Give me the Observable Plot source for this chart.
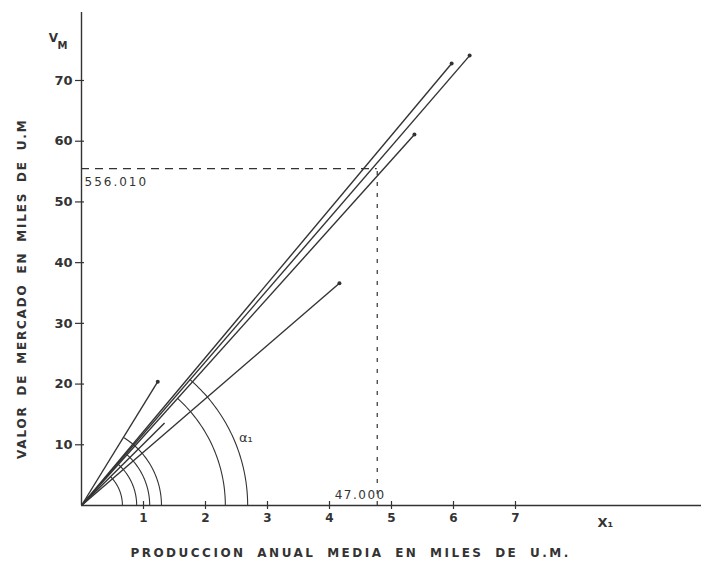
<!DOCTYPE html>
<html>
<head>
<meta charset="utf-8">
<script src="https://cdn.jsdelivr.net/npm/d3@7"></script>
<script src="https://cdn.jsdelivr.net/npm/@observablehq/plot@0.6"></script>
<style>
  html, body { margin: 0; padding: 0; background: #fff; }
  #chart svg { display: block; }
</style>
</head>
<body>
<div id="chart"></div>
<script>
// ---- data ----
const xTicks = [1, 2, 3, 4, 5, 6, 7];
const yTicks = [10, 20, 30, 40, 50, 60, 70];
// rays from the origin: end point (x in thousands of u.m., y in tens of thousands)
const rayEndX = [1.23, 5.97, 6.26, 5.37, 1.34, 4.16];
const rayEndY = [20.4, 72.8, 74.1, 61.1, 13.6, 36.6];
const rayDot  = [true, true, true, true, false, true];
// angle arcs: radius (x units) and the ray where each arc stops
const arcRadius = [0.66, 0.89, 1.10, 1.29, 2.32, 2.68];
const arcRay    = [4, 3, 3, 0, 3, 2];
// reference point (dashed guides)
const refX = 4.77, refY = 55.5;
const refXLabel = "47.000", refYLabel = "556.010";
const xTitle = "PRODUCCION ANUAL MEDIA EN MILES DE U.M.";
const yTitle = "VALOR DE MERCADO EN MILES DE U.M";

// ---- layout ----
const W = 705, H = 567;
const mL = 81, mR = 4, mT = 12, mB = 62;
const xMax = 10, yMax = 81.2;
const kx = (W - mL - mR) / xMax, ky = (H - mT - mB) / yMax;
const ink = "#333";

const rays = rayEndX.map((x, i) => ({x, y: rayEndY[i], dot: rayDot[i]}));
const arcPts = [];
arcRadius.forEach((r, i) => {
  const ray = rays[arcRay[i]];
  const end = Math.atan((ray.y / ray.x) * ky / kx);
  const n = 48;
  for (let k = 0; k <= n; k++) {
    const t = end * k / n;
    arcPts.push({id: i, x: r * Math.cos(t), y: r * Math.sin(t) * kx / ky});
  }
});

const font = "DejaVu Sans, sans-serif";
const plot = Plot.plot({
  width: W, height: H,
  marginLeft: mL, marginRight: mR, marginTop: mT, marginBottom: mB,
  x: {domain: [0, xMax], axis: null},
  y: {domain: [0, yMax], axis: null},
  style: {fontFamily: font, color: ink, background: "#fff"},
  marks: [
    // axes lines
    Plot.ruleY([0], {stroke: ink, strokeWidth: 1.6}),
    Plot.ruleX([0], {stroke: ink, strokeWidth: 1.4}),
    // tick crosses
    Plot.ruleX(xTicks, {x: d => d, y1: () => 0, y2: () => 0, insetTop: -4, insetBottom: -4, stroke: ink, strokeWidth: 1.2}),
    Plot.ruleY(yTicks, {y: d => d, x1: () => 0, x2: () => 0, insetLeft: -6, insetRight: -3, stroke: ink, strokeWidth: 1.2}),
    // tick labels
    Plot.axisX({ticks: xTicks, tickSize: 0, tickPadding: 8, fontSize: 12, fontWeight: "bold", tickFormat: d => d, label: null, fill: ink}),
    Plot.axisY({ticks: yTicks, tickSize: 0, tickPadding: 9, fontSize: 13, fontWeight: "bold", tickFormat: d => d, label: null, fill: ink}),
    // dashed guides
    Plot.ruleY([refY], {x1: () => 0, x2: () => refX, stroke: ink, strokeWidth: 1.2, strokeDasharray: "8,6"}),
    Plot.ruleX([refX], {y1: () => 0, y2: () => refY, stroke: ink, strokeWidth: 1.2, strokeDasharray: "4,7"}),
    // rays
    Plot.link(rays, {x1: () => 0, y1: () => 0, x2: "x", y2: "y", stroke: ink, strokeWidth: 1.4}),
    Plot.dot(rays.filter(d => d.dot), {x: "x", y: "y", r: 2, fill: ink, stroke: "none"}),
    // arcs
    Plot.line(arcPts, {x: "x", y: "y", z: "id", stroke: ink, strokeWidth: 1.1, curve: "linear"}),
    // annotations
    Plot.text([refYLabel], {x: () => 0, y: () => refY, dx: 3, dy: 14, textAnchor: "start", fontSize: 12, fill: ink, ariaDescription: "ref-y-label"}),
    Plot.text([refXLabel], {x: () => refX, y: () => 0, dx: -17, dy: -10, fontSize: 12, fill: ink, ariaDescription: "ref-x-label"}),
    Plot.text(["α₁"], {x: () => 2.65, y: () => 11.1, fontSize: 13, fill: ink}),
    Plot.text(["X₁"], {x: () => 8.45, y: () => 0, dy: 17, fontSize: 13, fontWeight: "bold", fill: ink}),
    Plot.text(["V"], {x: () => 0, y: () => 76.9, dx: -28, fontSize: 12, fontWeight: "bold", fill: ink}),
    Plot.text(["M"], {x: () => 0, y: () => 76.9, dx: -19, dy: 7, fontSize: 10, fontWeight: "bold", fill: ink}),
    // axis titles
    Plot.text([xTitle], {x: () => 4.34, y: () => -7.9, fontSize: 12, fontWeight: "bold", fill: ink, ariaDescription: "x-title"}),
    Plot.text([yTitle], {x: () => -0.95, y: () => 35.7, rotate: -90, fontSize: 12, fontWeight: "bold", fill: ink, ariaDescription: "y-title"})
  ]
});
const sel = d3.select(plot);
const spacing = {"x-title": ["2.5px", "5px"], "y-title": ["1.8px", "4px"], "ref-y-label": ["2px", "0px"], "ref-x-label": ["1.5px", "0px"]};
for (const [key, [ls, ws]] of Object.entries(spacing)) {
  sel.selectAll(`g[aria-description="${key}"] text`)
    .style("letter-spacing", ls)
    .style("word-spacing", ws);
}
document.getElementById("chart").appendChild(plot);
</script>
</body>
</html>
